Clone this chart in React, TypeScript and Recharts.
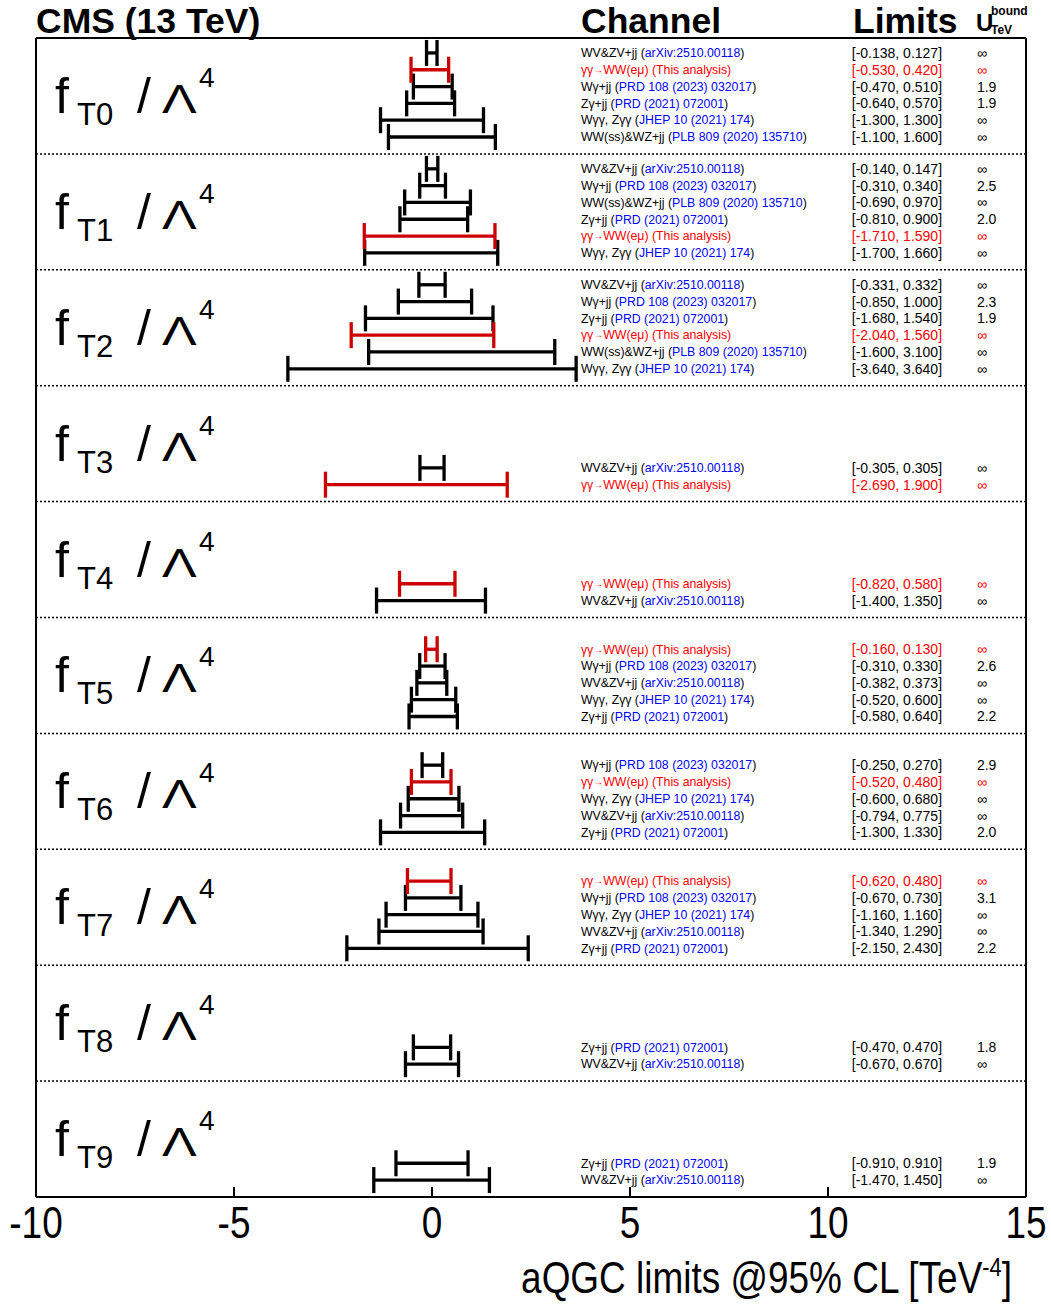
import React from "react";
import { ComposedChart, Scatter, XAxis, YAxis, ErrorBar, ReferenceLine } from "recharts";

const SANS = "'Liberation Sans', Arial, sans-serif";
const RED_BAR = "#cc0000";
const RED_TEXT = "#ff0000";
const BLUE = "#0000ff";
const NARROW_SCALE = 0.84;

const OPERATORS = ["T0", "T1", "T2", "T3", "T4", "T5", "T6", "T7", "T8", "T9"];

const CHANNEL_NAMES: Record<string, string> = {
  WVZV: "WV&ZV+jj",
  WA: "Wγ+jj",
  ZA: "Zγ+jj",
  WAA: "Wγγ, Zγγ",
  SSWZ: "WW(ss)&WZ+jj",
  AAWW: "γγ→WW(eμ)",
};

const CHANNEL_REFS: Record<string, string> = {
  WVZV: "arXiv:2510.00118",
  WA: "PRD 108 (2023) 032017",
  ZA: "PRD (2021) 072001",
  WAA: "JHEP 10 (2021) 174",
  SSWZ: "PLB 809 (2020) 135710",
  AAWW: "This analysis",
};

// [channel, lower, upper, U bound]
const T0 = [
  ["WVZV", -0.138, 0.127, "∞"],
  ["AAWW", -0.53, 0.42, "∞"],
  ["WA", -0.47, 0.51, "1.9"],
  ["ZA", -0.64, 0.57, "1.9"],
  ["WAA", -1.3, 1.3, "∞"],
  ["SSWZ", -1.1, 1.6, "∞"],
];
const T1 = [
  ["WVZV", -0.14, 0.147, "∞"],
  ["WA", -0.31, 0.34, "2.5"],
  ["SSWZ", -0.69, 0.97, "∞"],
  ["ZA", -0.81, 0.9, "2.0"],
  ["AAWW", -1.71, 1.59, "∞"],
  ["WAA", -1.7, 1.66, "∞"],
];
const T2 = [
  ["WVZV", -0.331, 0.332, "∞"],
  ["WA", -0.85, 1.0, "2.3"],
  ["ZA", -1.68, 1.54, "1.9"],
  ["AAWW", -2.04, 1.56, "∞"],
  ["SSWZ", -1.6, 3.1, "∞"],
  ["WAA", -3.64, 3.64, "∞"],
];
const T3 = [
  ["WVZV", -0.305, 0.305, "∞"],
  ["AAWW", -2.69, 1.9, "∞"],
];
const T4 = [
  ["AAWW", -0.82, 0.58, "∞"],
  ["WVZV", -1.4, 1.35, "∞"],
];
const T5 = [
  ["AAWW", -0.16, 0.13, "∞"],
  ["WA", -0.31, 0.33, "2.6"],
  ["WVZV", -0.382, 0.373, "∞"],
  ["WAA", -0.52, 0.6, "∞"],
  ["ZA", -0.58, 0.64, "2.2"],
];
const T6 = [
  ["WA", -0.25, 0.27, "2.9"],
  ["AAWW", -0.52, 0.48, "∞"],
  ["WAA", -0.6, 0.68, "∞"],
  ["WVZV", -0.794, 0.775, "∞"],
  ["ZA", -1.3, 1.33, "2.0"],
];
const T7 = [
  ["AAWW", -0.62, 0.48, "∞"],
  ["WA", -0.67, 0.73, "3.1"],
  ["WAA", -1.16, 1.16, "∞"],
  ["WVZV", -1.34, 1.29, "∞"],
  ["ZA", -2.15, 2.43, "2.2"],
];
const T8 = [
  ["ZA", -0.47, 0.47, "1.8"],
  ["WVZV", -0.67, 0.67, "∞"],
];
const T9 = [
  ["ZA", -0.91, 0.91, "1.9"],
  ["WVZV", -1.47, 1.45, "∞"],
];

const PANELS = [T0, T1, T2, T3, T4, T5, T6, T7, T8, T9];
const X_TICKS = [-10, -5, 0, 5, 10, 15];

// layout in axis units (one panel = 1 on the y axis)
const ROW_BOTTOM = 0.854;
const ROW_STEP = 0.145;
const LABEL_BASE = 0.647;
const LABEL_COL = -9.52;
const CHANNEL_COL = 3.76;
const LIMIT_COL = 10.6;
const UBOUND_COL = 13.76;

const rows = PANELS.flatMap((panel, p) =>
  panel.map((entry, j) => {
    const [ch, lo, hi, u] = entry as [string, number, number, string];
    const slot = panel.length - 1 - j;
    return {
      ch,
      lo,
      hi,
      u,
      red: ch === "AAWW",
      y: p + ROW_BOTTOM - slot * ROW_STEP,
      x: (lo + hi) / 2,
      err: [(hi - lo) / 2, (hi - lo) / 2],
    };
  })
);

const blackRows = rows.filter((r) => !r.red);
const redRows = rows.filter((r) => r.red);
const channelRows = rows.map((r) => ({ ...r, x: CHANNEL_COL }));
const limitRows = rows.map((r) => ({ ...r, x: LIMIT_COL }));
const uboundRows = rows.map((r) => ({ ...r, x: UBOUND_COL }));
const operatorRows = OPERATORS.map((op, p) => ({ op, x: LABEL_COL, y: p + LABEL_BASE }));

const Empty = () => <g />;

function ChannelLabel({ cx, cy, payload }: any) {
  const name = CHANNEL_NAMES[payload.ch];
  if (payload.red) {
    const [a, b] = name.split("→");
    return (
      <text x={cx} y={cy + 4.3} fontSize={12.3} fontFamily={SANS} fill={RED_TEXT}>
        {a}
        <tspan fontSize={10} dy={-1}>→</tspan>
        <tspan dy={1}>{b + " (" + CHANNEL_REFS[payload.ch] + ")"}</tspan>
      </text>
    );
  }
  return (
    <text x={cx} y={cy + 4.3} fontSize={12.3} fontFamily={SANS} fill="#000">
      {name + " ("}
      <tspan fill={BLUE}>{CHANNEL_REFS[payload.ch]}</tspan>)
    </text>
  );
}

function LimitLabel({ cx, cy, payload }: any) {
  return (
    <text x={cx} y={cy + 5} fontSize={14} fontFamily={SANS} fill={payload.red ? RED_TEXT : "#000"}>
      {`[${payload.lo.toFixed(3)}, ${payload.hi.toFixed(3)}]`}
    </text>
  );
}

function UboundLabel({ cx, cy, payload }: any) {
  return (
    <text x={cx} y={cy + 5} fontSize={14} fontFamily={SANS} fill={payload.red ? RED_TEXT : "#000"}>
      {payload.u}
    </text>
  );
}

function OperatorLabel({ cx, cy, payload }: any) {
  return (
    <g fontFamily={SANS} fill="#000">
      <text x={cx} y={cy} fontSize={50}>f</text>
      <text x={cx + 22} y={cy + 12} fontSize={31}>{payload.op}</text>
      <text x={cx + 82} y={cy} fontSize={50}>/</text>
      <text transform={`translate(${cx + 107},${cy}) scale(1.3,1)`} fontSize={40}>Λ</text>
      <text x={cx + 144} y={cy - 26} fontSize={28}>4</text>
    </g>
  );
}

function XTick({ x, y, payload }: any) {
  return (
    <g>
      <line x1={x} x2={x} y1={y} y2={y - 10} stroke="#000" strokeWidth={2} />
      <text
        transform={`translate(${x},${y + 41}) scale(${NARROW_SCALE},1)`}
        textAnchor="middle"
        fontSize={44}
        fontFamily={SANS}
        fill="#000"
      >
        {payload.value}
      </text>
    </g>
  );
}

export default function App() {
  return (
    <div style={{ position: "absolute", left: 0, top: 0, width: 1051, height: 1306, background: "#fff" }}>
      <ComposedChart width={1051} height={1306} margin={{ top: 38, right: 25, bottom: 49, left: 36 }}>
        <XAxis
          dataKey="x"
          type="number"
          domain={[-10, 15]}
          ticks={X_TICKS}
          allowDataOverflow
          height={60}
          tickSize={0}
          tickMargin={0}
          tickLine={false}
          axisLine={{ stroke: "#000", strokeWidth: 2 }}
          tick={<XTick />}
        />
        <YAxis dataKey="y" type="number" domain={[0, 10]} reversed hide allowDataOverflow />
        {[1, 2, 3, 4, 5, 6, 7, 8, 9].map((v) => (
          <ReferenceLine key={v} y={v} stroke="#000" strokeWidth={1.5} strokeDasharray="2 2" />
        ))}
        <ReferenceLine y={0} stroke="#000" strokeWidth={2} />
        <ReferenceLine x={-10} stroke="#000" strokeWidth={2} />
        <ReferenceLine x={15} stroke="#000" strokeWidth={2} />
        <Scatter data={blackRows} shape={Empty} isAnimationActive={false}>
          <ErrorBar dataKey="err" direction="x" width={13} strokeWidth={3.3} stroke="#000" isAnimationActive={false} />
        </Scatter>
        <Scatter data={redRows} shape={Empty} isAnimationActive={false}>
          <ErrorBar dataKey="err" direction="x" width={13} strokeWidth={3.3} stroke={RED_BAR} isAnimationActive={false} />
        </Scatter>
        <Scatter data={channelRows} shape={(p: any) => <ChannelLabel {...p} />} isAnimationActive={false} />
        <Scatter data={limitRows} shape={(p: any) => <LimitLabel {...p} />} isAnimationActive={false} />
        <Scatter data={uboundRows} shape={(p: any) => <UboundLabel {...p} />} isAnimationActive={false} />
        <Scatter data={operatorRows} shape={(p: any) => <OperatorLabel {...p} />} isAnimationActive={false} />
      </ComposedChart>
      <svg
        width={1051}
        height={1306}
        style={{ position: "absolute", left: 0, top: 0, pointerEvents: "none" }}
      >
        <g fontFamily={SANS} fontWeight="bold" fill="#000">
          <text x={36} y={32.5} fontSize={35.5}>CMS (13 TeV)</text>
          <text x={581} y={32.5} fontSize={35.5}>Channel</text>
          <text x={853} y={32.5} fontSize={35.5}>Limits</text>
          <text x={976} y={31} fontSize={24}>U</text>
          <text x={991} y={15} fontSize={12}>bound</text>
          <text x={991} y={34} fontSize={12}>TeV</text>
        </g>
        <text
          transform={`translate(1012,1293) scale(${NARROW_SCALE},1)`}
          textAnchor="end"
          fontSize={44}
          fontFamily={SANS}
          fill="#000"
        >
          aQGC limits @95% CL [TeV
          <tspan dy={-17} fontSize={26}>-4</tspan>
          <tspan dy={17}>]</tspan>
        </text>
      </svg>
    </div>
  );
}
